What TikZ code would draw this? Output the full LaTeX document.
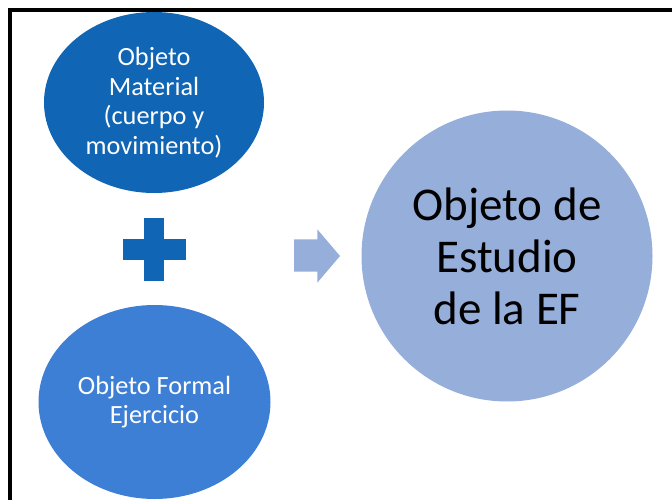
\documentclass[tikz,border=0pt]{standalone}
\usepackage{fontspec}
\setmainfont{Carlito}
\usepackage{tikz}
\usetikzlibrary{shapes.geometric, positioning}
\definecolor{darkblue}{RGB}{16,101,180}
\definecolor{midblue}{RGB}{62,127,214}
\definecolor{paleblue}{RGB}{150,174,218}
\tikzset{
    blob/.style={
        ellipse,
        inner sep=0pt,
        align=center,
        text=white,
        font=\fontsize{26.3}{29.5}\selectfont
    },
    bigblob/.style={
        circle,
        inner sep=0pt,
        align=center,
        fill=paleblue,
        text=black,
        minimum size=291pt,
        font=\fontsize{47}{52}\selectfont
    }
}

\begin{document}
\begin{tikzpicture}[x=1pt,y=-1pt]
	\useasboundingbox (0,0) rectangle (672,500);
	% frame
	\draw[line width=4pt] (10,500) -- (10,10) -- (672,10);
	\node[blob,fill=darkblue,minimum width=220pt,minimum height=181pt] at (154,102.5) (material) {Objeto\\Material\\(cuerpo y\\movimiento)};
	\node[blob,fill=midblue,minimum width=232pt,minimum height=194pt] at (154.5,402) (formal) {Objeto Formal\\Ejercicio};
	\node[bigblob] at (507,256) (estudio) {Objeto de\\Estudio\\de la EF};
	% plus
	\coordinate (plus) at (154,249.5);
	\fill[darkblue] ([shift={(-31.5,-10.3)}]plus) rectangle ([shift={(31.5,10.3)}]plus);
	\fill[darkblue] ([shift={(-10,-31.2)}]plus) rectangle ([shift={(10,31.2)}]plus);
	% arrow
	\coordinate (tip) at (340,256);
	\fill[paleblue] (294,239.3) -- (317.3,239.3) -- (317.3,229.3) -- (tip)
		-- (317.3,282.7) -- (317.3,271.7) -- (294,271.7) -- cycle;
\end{tikzpicture}
\end{document}
